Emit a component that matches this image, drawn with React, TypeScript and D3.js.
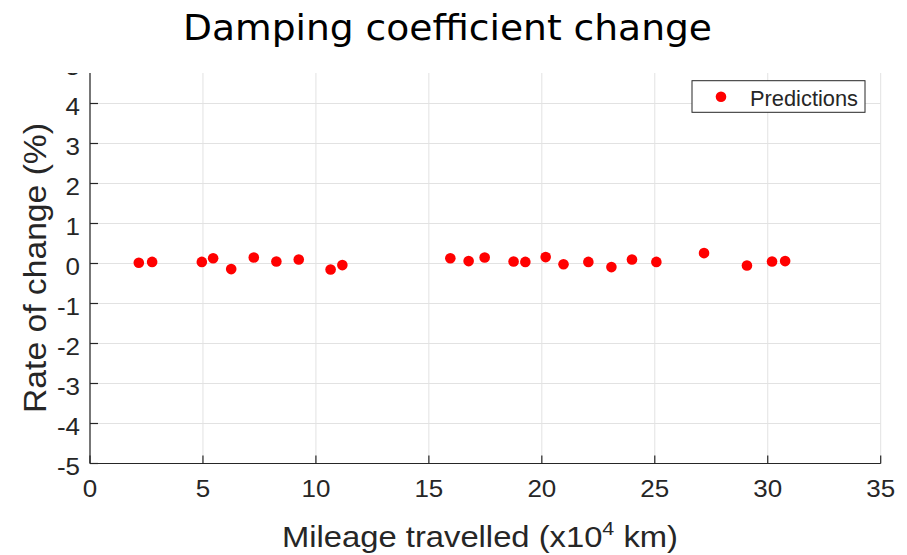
import React from "react";
import * as d3 from "d3";

// Mileage (x10^4 km) and predicted rate of change (%)
const mileage = [2.16, 2.75, 4.95, 5.45, 6.25, 7.25, 8.25, 9.24, 10.65, 11.17, 15.95, 16.76, 17.47, 18.75, 19.27, 20.17, 20.96, 22.06, 23.08, 23.99, 25.07, 27.18, 29.08, 30.19, 30.77];
const rateOfChange = [0.02, 0.04, 0.04, 0.13, -0.14, 0.15, 0.05, 0.1, -0.15, -0.04, 0.13, 0.06, 0.15, 0.05, 0.04, 0.16, -0.02, 0.04, -0.09, 0.1, 0.04, 0.26, -0.05, 0.05, 0.06];
const xTicks = [0, 5, 10, 15, 20, 25, 30, 35];
const yTicks = [-5, -4, -3, -2, -1, 0, 1, 2, 3, 4, 5];

const W = 907;
const H = 555;
const axisColor = "#262626";
const gridColor = "#e2e2e2";
const font = "'Liberation Sans', Arial, Helvetica, sans-serif";

export default function App() {
  const x = d3.scaleLinear().domain([0, 35]).range([90, 880.7]);
  const y = d3.scaleLinear().domain([-5, 5]).range([463.5, 63.5]);
  const plotTop = 73;
  const tickLen = 8;
  const points = d3.zip(mileage, rateOfChange);

  return (
    <svg width={W} height={H} style={{ position: "absolute", left: 0, top: 0, background: "#fff" }}>
      <defs>
        <clipPath id="plotClip">
          <rect x={0} y={plotTop} width={W} height={H - plotTop} />
        </clipPath>
      </defs>
      <rect x={0} y={0} width={W} height={H} fill="#fff" />

      <g clipPath="url(#plotClip)">
        {/* grid */}
        {xTicks.map((t) => (
          <line key={"gx" + t} x1={x(t)} x2={x(t)} y1={y(5)} y2={y(-5)} stroke={gridColor} strokeWidth={1} />
        ))}
        {yTicks.map((t) => (
          <line key={"gy" + t} x1={x(0)} x2={x(35)} y1={y(t)} y2={y(t)} stroke={gridColor} strokeWidth={1} />
        ))}

        {/* axes */}
        <line x1={x(0)} x2={x(0)} y1={y(5)} y2={y(-5)} stroke={axisColor} strokeWidth={1.2} />
        <line x1={x(0)} x2={x(35)} y1={y(-5)} y2={y(-5)} stroke={axisColor} strokeWidth={1.2} />
        {yTicks.map((t) => (
          <g key={"ty" + t}>
            <line x1={x(0)} x2={x(0) + tickLen} y1={y(t)} y2={y(t)} stroke={axisColor} strokeWidth={1.2} />
            <text
              transform={`translate(${x(0) - 10},${y(t) + 11.5}) scale(1.13,1)`}
              textAnchor="end"
              fontFamily={font}
              fontSize={23}
              fill={axisColor}
            >
              {t}
            </text>
          </g>
        ))}
        {xTicks.map((t) => (
          <g key={"tx" + t}>
            <line x1={x(t)} x2={x(t)} y1={y(-5)} y2={y(-5) - tickLen} stroke={axisColor} strokeWidth={1.2} />
            <text
              transform={`translate(${x(t)},${497}) scale(1.13,1)`}
              textAnchor="middle"
              fontFamily={font}
              fontSize={23}
              fill={axisColor}
            >
              {t}
            </text>
          </g>
        ))}

        {/* predictions */}
        {points.map(([m, r], i) => (
          <circle key={"p" + i} cx={x(m)} cy={y(r)} r={5.3} fill="#ff0000" />
        ))}
      </g>

      {/* legend */}
      <rect x={692} y={80.7} width={173} height={31.6} fill="#fff" stroke={axisColor} strokeWidth={1} />
      <circle cx={721} cy={96.7} r={5.3} fill="#ff0000" />
      <text x={750} y={106} fontFamily={font} fontSize={22} fill={axisColor} textLength={108} lengthAdjust="spacingAndGlyphs">
        Predictions
      </text>

      {/* axis labels */}
      <text
        x={282}
        y={546.5}
        fontFamily={font}
        fontSize={29}
        fill={axisColor}
        textLength={396}
        lengthAdjust="spacingAndGlyphs"
      >
        Mileage travelled (x10<tspan dy={-12} fontSize={19}>4</tspan>
        <tspan dy={12}> km)</tspan>
      </text>
      <text
        transform={`translate(46,268) rotate(-90)`}
        textAnchor="middle"
        fontFamily={font}
        fontSize={31}
        fill={axisColor}
        textLength={290}
        lengthAdjust="spacingAndGlyphs"
      >
        Rate of change (%)
      </text>

      {/* title */}
      <text
        x={183}
        y={40}
        fontFamily="'DejaVu Sans Condensed', 'DejaVu Sans', Tahoma, sans-serif"
        fontSize={36}
        fill="#000"
        textLength={529}
        lengthAdjust="spacingAndGlyphs"
      >
        Damping coefficient change
      </text>
    </svg>
  );
}
